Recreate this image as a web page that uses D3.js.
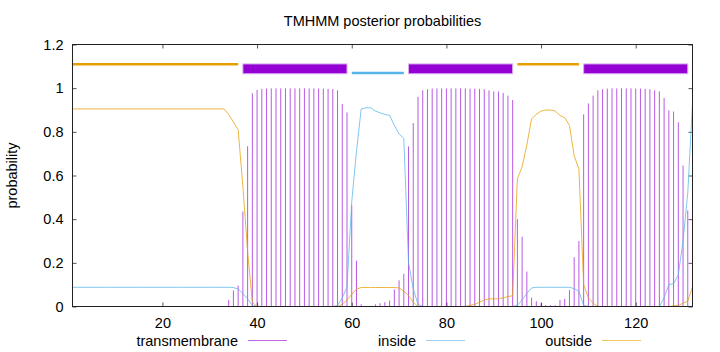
<!DOCTYPE html>
<html>
<head>
<meta charset="utf-8">
<script src="https://cdn.jsdelivr.net/npm/d3@7"></script>
<style>
body { margin: 0; background: #fff; }
text { font-family: "Liberation Sans", Arial, sans-serif; font-size: 14.5px; fill: #000; }
</style>
</head>
<body>
<svg width="720" height="352"></svg>
<script>
// posterior probabilities per residue, 1..132
var tmProb = [
  0,0,0,0,0,0,0,0,0,0,
  0,0,0,0,0,0,0,0,0,0,
  0,0,0,0,0,0,0,0,0,0,
  0,0,0,0.03,0.073,0.096,0.435,0.734,0.977,0.992,
  0.997,0.998,0.999,0.999,0.999,0.999,0.999,0.999,0.999,0.999,
  0.999,0.999,0.998,0.998,0.997,0.996,0.99,0.928,0.889,0.463,
  0.21,0.01,0.003,0.003,0.01,0.015,0.02,0.027,0.078,0.12,
  0.15,0.733,0.84,0.96,0.99,0.995,0.998,0.999,0.999,0.999,
  0.999,0.999,0.999,0.999,0.998,0.998,0.997,0.995,0.99,0.985,
  0.985,0.978,0.966,0.946,0.40,0.32,0.16,0.04,0.024,0.015,
  0.006,0.006,0.006,0.03,0.035,0.075,0.226,0.30,0.88,0.93,
  0.966,0.99,0.995,0.998,0.999,0.999,0.999,0.999,0.999,0.998,
  0.998,0.997,0.995,0.99,0.985,0.955,0.898,0.893,0.844,0.646,
  0.44,0
];
var insideProb = [
  0.088,0.088,0.088,0.088,0.088,0.088,0.088,0.088,0.088,0.088,
  0.088,0.088,0.088,0.088,0.088,0.088,0.088,0.088,0.088,0.088,
  0.088,0.088,0.088,0.088,0.088,0.088,0.088,0.088,0.088,0.088,
  0.088,0.088,0.088,0.088,0.087,0.08,0.06,0.035,0.005,0,
  0,0,0,0,0,0,0,0,0,0,
  0,0,0,0,0,0,0.005,0.04,0.09,0.48,
  0.71,0.905,0.91,0.91,0.895,0.887,0.88,0.875,0.83,0.79,
  0.77,0.2,0.08,0.01,0,0,0,0,0,0,
  0,0,0,0,0,0,0,0,0,0,
  0,0,0,0,0.005,0.03,0.06,0.085,0.088,0.088,
  0.088,0.088,0.088,0.088,0.088,0.088,0.082,0.07,0.005,0,
  0,0,0,0,0,0,0,0,0,0,
  0,0,0,0,0,0.04,0.1,0.105,0.145,0.3,
  0.52,0.93
];
var outsideProb = [
  0.905,0.905,0.905,0.905,0.905,0.905,0.905,0.905,0.905,0.905,
  0.905,0.905,0.905,0.905,0.905,0.905,0.905,0.905,0.905,0.905,
  0.905,0.905,0.905,0.905,0.905,0.905,0.905,0.905,0.905,0.905,
  0.905,0.905,0.905,0.88,0.845,0.81,0.55,0.25,0.02,0,
  0,0,0,0,0,0,0,0,0,0,
  0,0,0,0,0,0,0,0.01,0.03,0.055,
  0.08,0.087,0.087,0.087,0.087,0.087,0.087,0.087,0.087,0.085,
  0.07,0.05,0.02,0,0,0,0,0,0,0,
  0,0,0,0,0.005,0.01,0.02,0.03,0.035,0.035,
  0.035,0.04,0.045,0.05,0.585,0.64,0.74,0.86,0.88,0.895,
  0.9,0.9,0.895,0.875,0.865,0.83,0.69,0.63,0.1,0.04,
  0.015,0,0,0,0,0,0,0,0,0,
  0,0,0,0,0,0,0,0.003,0.005,0.015,
  0.025,0.09
];

// predicted topology
var segStart = [1, 37, 60, 72, 95, 109];
var segEnd   = [36, 59, 71, 94, 108, 131];
var segType  = ['outside', 'TMhelix', 'inside', 'TMhelix', 'outside', 'TMhelix'];

var xTicks = [20, 40, 60, 80, 100, 120];
var yTicks = [0, 0.2, 0.4, 0.6, 0.8, 1, 1.2];
var legendNames = ['transmembrane', 'inside', 'outside'];

var colTM = '#9400d3', colIn = '#56b4e9', colOut = '#e69f00';

var svg = d3.select('svg');
var plotL = 72.5, plotR = 692.5, plotT = 44.5, plotB = 306.5;

var xScale = d3.scaleLinear().domain([1, 132]).range([plotL, plotR]);
var yScale = d3.scaleLinear().domain([0, 1.2]).range([plotB, plotT]);

// title
svg.append('text')
    .attr('x', (plotL + plotR) / 2)
    .attr('y', 25.5)
    .attr('text-anchor', 'middle')
    .text('TMHMM posterior probabilities');

// y label
svg.append('text')
    .attr('transform', 'translate(17,' + (plotT + plotB) / 2 + ') rotate(-90)')
    .attr('text-anchor', 'middle')
    .text('probability');

// axes, ticks inward on all sides
var gx = svg.append('g')
    .attr('transform', 'translate(0,' + plotB + ')')
    .call(d3.axisBottom(xScale).tickValues(xTicks).tickSize(-4).tickPadding(11).tickFormat(String));
var gy = svg.append('g')
    .attr('transform', 'translate(' + plotL + ',0)')
    .call(d3.axisLeft(yScale).tickValues(yTicks).tickSize(-4).tickPadding(9).tickFormat(String));
var gxt = svg.append('g')
    .attr('transform', 'translate(0,' + plotT + ')')
    .call(d3.axisTop(xScale).tickValues(xTicks).tickSize(-4).tickFormat(''));
var gyr = svg.append('g')
    .attr('transform', 'translate(' + plotR + ',0)')
    .call(d3.axisRight(yScale).tickValues(yTicks).tickSize(-4).tickFormat(''));
[gx, gy, gxt, gyr].forEach(function(g) {
    g.attr('font-family', null).attr('font-size', null);
    g.select('.domain').remove();
    g.selectAll('line').attr('stroke', '#555');
});

// transmembrane impulses
tmProb.forEach(function(v, i) {
    if (v <= 0) return;
    svg.append('line')
        .attr('x1', xScale(i + 1)).attr('x2', xScale(i + 1))
        .attr('y1', yScale(0)).attr('y2', yScale(v))
        .attr('stroke', colTM)
        .attr('stroke-opacity', 0.65)
        .attr('stroke-width', 1);
});

var line = d3.line()
    .x(function(d, i) { return xScale(i + 1); })
    .y(function(d) { return yScale(d); });

svg.append('path').datum(insideProb)
    .attr('d', line).attr('fill', 'none')
    .attr('stroke', colIn).attr('stroke-opacity', 0.75).attr('stroke-width', 1);
svg.append('path').datum(outsideProb)
    .attr('d', line).attr('fill', 'none')
    .attr('stroke', colOut).attr('stroke-opacity', 0.75).attr('stroke-width', 1);

// topology bars above the plot
segType.forEach(function(t, i) {
    var x1 = xScale(segStart[i]), x2 = xScale(segEnd[i]);
    if (t === 'TMhelix') {
        svg.append('rect')
            .attr('x', x1).attr('y', yScale(1.111))
            .attr('width', x2 - x1).attr('height', yScale(1.066) - yScale(1.111))
            .attr('fill', colTM)
            .attr('stroke', '#d8b0f0').attr('stroke-width', 1);
    } else {
        var lev = t === 'outside' ? 1.11 : 1.07;
        svg.append('line')
            .attr('x1', x1).attr('x2', x2)
            .attr('y1', yScale(lev)).attr('y2', yScale(lev))
            .attr('stroke', t === 'outside' ? colOut : colIn)
            .attr('stroke-width', 2.5);
    }
});

// frame
svg.append('rect')
    .attr('x', plotL).attr('y', plotT)
    .attr('width', plotR - plotL).attr('height', plotB - plotT)
    .attr('fill', 'none').attr('stroke', '#222').attr('stroke-width', 1);

// legend below
var legendEnd = [238, 416, 592];
var legendCol = [colTM, colIn, colOut];
legendNames.forEach(function(name, i) {
    svg.append('text')
        .attr('x', legendEnd[i]).attr('y', 346)
        .attr('text-anchor', 'end')
        .text(name);
    svg.append('line')
        .attr('x1', legendEnd[i] + 10).attr('x2', legendEnd[i] + 49)
        .attr('y1', 340.5).attr('y2', 340.5)
        .attr('stroke', legendCol[i]).attr('stroke-opacity', 0.6)
        .attr('stroke-width', 1);
});
</script>
</body>
</html>
